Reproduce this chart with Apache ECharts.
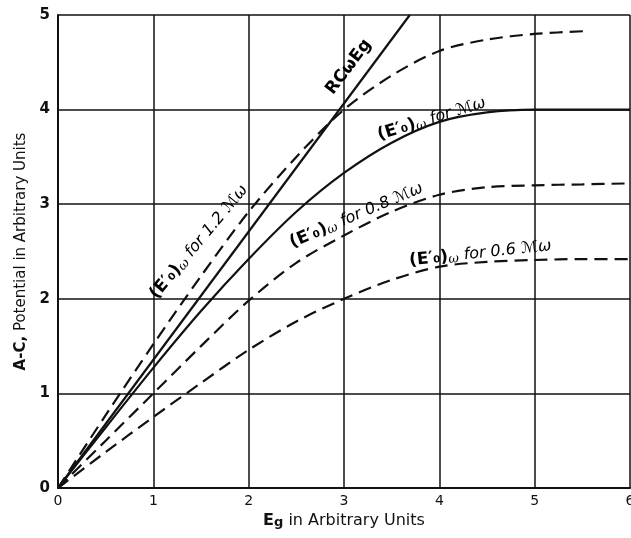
<!DOCTYPE html>
<html>
<head>
<meta charset="utf-8">
<script src="https://cdn.jsdelivr.net/npm/echarts@6/dist/echarts.min.js"></script>
<style>
  html, body { margin: 0; padding: 0; background: #fff; }
  #chart { width: 631px; height: 538px; }
</style>
</head>
<body>
<div id="chart"></div>
<script>
// Eg sample points (x axis)
const egSteps = [0, 0.5, 1, 1.5, 2, 2.5, 3, 3.5, 4, 4.5, 5, 5.5, 6];
const egSteps12 = [0, 0.5, 1, 1.5, 2, 2.5, 3, 3.5, 4, 4.5, 5, 5.55];

// RC w Eg straight line
const rcLineX = [0, 3.69];
const rcLineY = [0, 5];

// (E'o)w curves
const curve12 = [0, 0.77, 1.52, 2.24, 2.92, 3.50, 4.00, 4.36, 4.62, 4.74, 4.80, 4.83];
const curve10 = [0, 0.64, 1.27, 1.87, 2.42, 2.92, 3.33, 3.65, 3.87, 3.97, 4.00, 4.00, 4.00];
const curve08 = [0, 0.50, 1.00, 1.50, 1.98, 2.38, 2.67, 2.92, 3.10, 3.18, 3.20, 3.21, 3.22];
const curve06 = [0, 0.38, 0.75, 1.11, 1.46, 1.76, 2.00, 2.20, 2.34, 2.39, 2.41, 2.42, 2.42];

const xTicks = [0, 1, 2, 3, 4, 5, 6];
const yTicks = [0, 1, 2, 3, 4, 5];

const pair = (xs, ys) => ys.map((y, i) => [xs[i], y]);

const chart = echarts.init(document.getElementById('chart'));

const DASH = [13, 7];
const lineSeries = (data, dashed) => ({
    type: 'line',
    data: data,
    smooth: 0.3,
    showSymbol: false,
    symbol: 'none',
    silent: true,
    lineStyle: { color: '#111', width: 2.2, type: dashed ? DASH : 'solid' }
});

const option = {
    backgroundColor: '#fff',
    animation: false,
    grid: { left: 58, right: 1, top: 15, bottom: 50, containLabel: false, outerBoundsMode: 'none' },
    xAxis: {
        type: 'value',
        min: xTicks[0],
        max: xTicks[xTicks.length - 1],
        interval: 1,
        name: '{b|E}{g|g}{n| in Arbitrary Units}',
        nameLocation: 'middle',
        nameGap: 22,
        nameTextStyle: {
            rich: {
                b: { fontFamily: 'DejaVu Sans', fontWeight: 'bold', fontSize: 16, color: '#111' },
                g: { fontFamily: 'DejaVu Sans', fontWeight: 'bold', fontSize: 13, color: '#111', padding: [4, 0, 0, 0] },
                n: { fontFamily: 'DejaVu Sans', fontSize: 16, color: '#111' }
            }
        },
        axisLine: { show: true, lineStyle: { color: '#111', width: 2 } },
        axisTick: { show: false },
        axisLabel: { margin: 6, fontFamily: 'DejaVu Sans', fontSize: 14, color: '#111' },
        splitLine: { show: true, lineStyle: { color: '#111', width: 1.5 } }
    },
    yAxis: {
        type: 'value',
        min: yTicks[0],
        max: yTicks[yTicks.length - 1],
        interval: 1,
        name: '{b|A-C,}{n| Potential in Arbitrary Units}',
        nameLocation: 'middle',
        nameGap: 29,
        nameRotate: 90,
        nameTextStyle: {
            rich: {
                b: { fontFamily: 'DejaVu Sans', fontWeight: 'bold', fontSize: 15, color: '#111' },
                n: { fontFamily: 'DejaVu Sans', fontSize: 15, color: '#111' }
            }
        },
        axisLine: { show: true, lineStyle: { color: '#111', width: 2 } },
        axisTick: { show: false },
        axisLabel: { margin: 8, fontFamily: 'DejaVu Sans', fontWeight: 'bold', fontSize: 15, color: '#111' },
        splitLine: { show: true, lineStyle: { color: '#111', width: 1.5 } }
    },
    series: [
        Object.assign(lineSeries(pair(rcLineX, rcLineY), false), { smooth: false }),
        lineSeries(pair(egSteps12, curve12), true),
        lineSeries(pair(egSteps, curve10), false),
        lineSeries(pair(egSteps, curve08), true),
        lineSeries(pair(egSteps, curve06), true)
    ]
};
chart.setOption(option);

// curve labels, anchored in data coordinates
const eoRich = {
    p: { fontFamily: 'DejaVu Sans', fontWeight: 'bold', fontSize: 17, color: '#111' },
    w: { fontFamily: 'DejaVu Serif', fontStyle: 'italic', fontSize: 13, color: '#111', padding: [6, 0, 0, 0] },
    i: { fontFamily: 'DejaVu Sans', fontStyle: 'italic', fontSize: 16, color: '#111' },
    r: { fontFamily: 'DejaVu Sans', fontWeight: 'bold', fontSize: 17, color: '#111' }
};
const labels = [
    { text: '{r|RCωEg}', at: [3.05, 4.45], angle: 53 },
    { text: '{p|(E′₀)}{w|ω}{i| for 1.2 ℳω}', at: [1.48, 2.6], angle: 50 },
    { text: '{p|(E′₀)}{w|ω}{i| for ℳω}', at: [3.92, 3.9], angle: 17 },
    { text: '{p|(E′₀)}{w|ω}{i| for 0.8 ℳω}', at: [3.13, 2.88], angle: 23 },
    { text: '{p|(E′₀)}{w|ω}{i| for 0.6 ℳω}', at: [4.43, 2.48], angle: 6 }
];
chart.setOption({
    graphic: labels.map(l => {
        const p = chart.convertToPixel({ gridIndex: 0 }, l.at);
        return {
            type: 'text',
            x: p[0],
            y: p[1],
            rotation: l.angle * Math.PI / 180,
            silent: true,
            style: {
                text: l.text,
                rich: eoRich,
                align: 'center',
                verticalAlign: 'middle'
            }
        };
    })
});
</script>
</body>
</html>
